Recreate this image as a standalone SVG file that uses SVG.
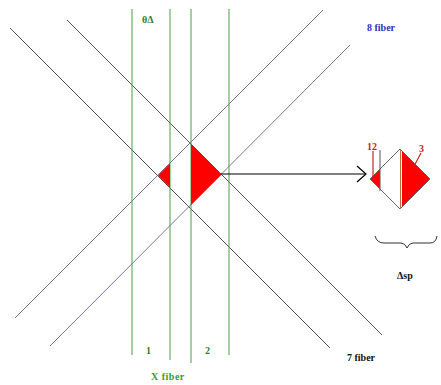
<svg xmlns="http://www.w3.org/2000/svg" width="441" height="385" viewBox="0 0 441 385">
<style>
.g{stroke:#4a9d4a;stroke-width:1;fill:none}
.b{stroke:#7878a8;stroke-width:1;fill:none}
.k{stroke:#555;stroke-width:1;fill:none}
.r{fill:#ff0000;stroke:none}
.t{font-family:"Liberation Serif",serif;font-weight:bold;font-size:10px}
</style>
<rect width="441" height="385" fill="#fff"/>
<g id="connectors">
<line class="b" x1="15" y1="318" x2="323" y2="10"/>
<line class="b" x1="50" y1="346" x2="350" y2="45"/>
<line class="k" x1="10" y1="28" x2="330" y2="348"/>
<line class="k" x1="67" y1="20" x2="382" y2="335"/>
<line class="g" x1="132" y1="9" x2="132" y2="355"/>
<line class="g" x1="170" y1="9" x2="170" y2="360"/>
<line class="g" x1="191" y1="9" x2="191" y2="363"/>
<line class="g" x1="229" y1="9" x2="229" y2="355"/>
<line x1="221" y1="174" x2="366" y2="174" stroke="#000" stroke-width="1.2"/>
<polyline points="357,166 366,174 357,182" fill="none" stroke="#000" stroke-width="1.2"/>
</g>
<g id="crossing">
<polygon class="r" points="158,175.5 170,163.5 170,187.5"/>
<polygon class="r" points="191,144 221.5,174.5 191,205"/>
</g>
<g id="detail">
<polygon class="r" points="370,179 380,169 380,189"/>
<polygon class="r" points="402,151 430,179 402,207"/>
<polygon points="370,179 400,149 430,179 400,209" fill="none" stroke="#666" stroke-width="1"/>
<line x1="400.5" y1="149" x2="400.5" y2="209" stroke="#c07040" stroke-width="1"/>
<line x1="380" y1="150" x2="380" y2="191" stroke="#555" stroke-width="1"/>
<line x1="373" y1="151" x2="373" y2="180" stroke="#d02020" stroke-width="1.2"/>
<line x1="421" y1="153" x2="413" y2="168" stroke="#d02020" stroke-width="1.2"/>
<text class="t" x="367" y="150" fill="#d02020" font-size="7">12</text>
<text class="t" x="419" y="152" fill="#d02020" font-size="7">3</text>
<path d="M375,236 Q377,243 384,243 L401,243 Q405,243 407,248 Q409,243 413,243 L430,243 Q436,243 437,236" fill="none" stroke="#333" stroke-width="1"/>
<text class="t" x="397" y="279" fill="#111" font-size="9">Δsp</text>
</g>
<g id="labels">
<text class="t" x="142" y="23" fill="#2e7d2e" font-size="7">θΔ</text>
<text class="t" x="146" y="354" fill="#2e7d2e" font-size="9">1</text>
<text class="t" x="205" y="354" fill="#2e7d2e" font-size="9">2</text>
<text class="t" x="151" y="380" fill="#2ea02e" font-size="11" letter-spacing="0.5">X fiber</text>
<text class="t" x="367" y="31" fill="#3030c0">8 fiber</text>
<text class="t" x="347" y="361" fill="#111">7 fiber</text>
</g>
</svg>
